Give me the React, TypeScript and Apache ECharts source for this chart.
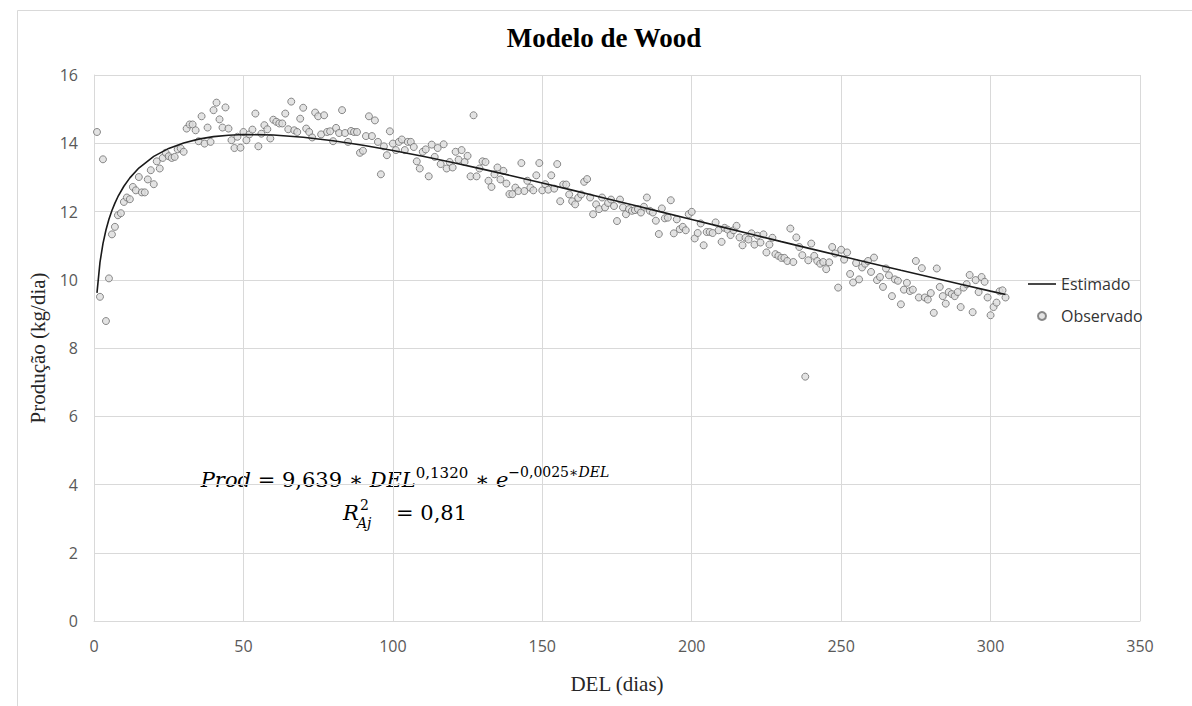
import React, { useEffect, useRef } from "react";
import * as echarts from "echarts";

// Observed daily production (kg/dia), day = firstDay + index
const firstDay = 1;
const observedValues: number[] = [
  14.33, 9.5, 13.53, 8.79, 10.04, 11.33, 11.55, 11.89, 11.95, 12.28,
  12.41, 12.36, 12.72, 12.62, 13.01, 12.56, 12.56, 12.94, 13.21, 12.8,
  13.47, 13.26, 13.57, 13.72, 13.62, 13.57, 13.6, 13.82, 13.85, 13.75,
  14.43, 14.55, 14.55, 14.38, 14.06, 14.79, 13.99, 14.46, 14.04, 14.97,
  15.19, 14.7, 14.46, 15.05, 14.43, 14.09, 13.86, 14.19, 13.87, 14.33,
  14.09, 14.26, 14.4, 14.87, 13.91, 14.28, 14.53, 14.41, 14.14, 14.69,
  14.63, 14.58, 14.58, 14.87, 14.41, 15.22, 14.38, 14.33, 14.72, 15.04,
  14.43, 14.33, 14.17, 14.9, 14.79, 14.26, 14.82, 14.33, 14.35, 14.06,
  14.45, 14.3, 14.97, 14.3, 14.04, 14.36, 14.33, 14.33, 13.72, 13.78,
  14.21, 14.79, 14.21, 14.67, 14.04, 13.09, 13.91, 13.65, 14.35, 13.99,
  13.8, 14.04, 14.11, 13.8, 14.04, 14.04, 13.89, 13.47, 13.26, 13.75,
  13.82, 13.03, 13.96, 13.6, 13.86, 13.39, 13.97, 13.26, 13.45, 13.29,
  13.75, 13.52, 13.8, 13.45, 13.63, 13.03, 14.82, 13.03, 13.26, 13.47,
  13.45, 12.9, 12.72, 13.09, 13.29, 12.94, 13.19, 12.82, 12.51, 12.51,
  12.7, 12.6, 13.42, 12.6, 12.9, 12.7, 12.62, 13.06, 13.42, 12.62,
  12.8, 12.64, 13.06, 12.67, 13.39, 12.3, 12.79, 12.79, 12.5, 12.3,
  12.21, 12.4, 12.5, 12.87, 12.95, 12.41, 11.92, 12.21, 12.07, 12.41,
  12.12, 12.25, 12.35, 12.16, 11.72, 12.35, 12.12, 11.92, 12.07, 12.02,
  12.04, 12.07, 11.97, 12.14, 12.41, 12.02, 11.97, 11.73, 11.34, 12.09,
  11.8, 11.82, 12.33, 11.36, 11.77, 11.48, 11.55, 11.45, 11.92, 11.99,
  11.21, 11.37, 11.65, 11.01, 11.4, 11.4, 11.37, 11.68, 11.45, 11.11,
  11.52, 11.47, 11.31, 11.45, 11.58, 11.24, 11.01, 11.23, 11.18, 11.36,
  11.03, 11.29, 11.09, 11.33, 10.8, 11.03, 11.23, 10.75, 10.7, 10.64,
  10.64, 10.55, 11.5, 10.52, 11.24, 10.96, 10.72, 7.16, 10.57, 11.06,
  10.7, 10.55, 10.47, 10.52, 10.31, 10.51, 10.96, 10.77, 9.77, 10.88,
  10.59, 10.8, 10.17, 9.92, 10.49, 10.01, 10.36, 10.47, 10.55, 10.23,
  10.65, 9.99, 10.08, 9.79, 10.33, 10.13, 9.52, 10.01, 9.97, 9.28,
  9.71, 9.91, 9.67, 9.71, 10.55, 9.48, 10.34, 9.48, 9.42, 9.61,
  9.03, 10.33, 9.79, 9.52, 9.3, 9.64, 9.58, 9.52, 9.64, 9.2,
  9.77, 9.87, 10.14, 9.05, 9.99, 9.64, 10.08, 9.94, 9.48, 8.96,
  9.2, 9.33, 9.66, 9.69, 9.48,
];

// Estimated (Wood model) curve
const estimatedDays: number[] = [
  1, 2, 3, 4, 5, 6, 7, 8, 10, 12, 15, 20, 25, 30, 35, 40, 45, 50, 60, 70, 80, 90, 100,
  110, 120, 130, 140, 150, 160, 170, 180, 190, 200, 210, 220, 230, 240, 250, 260, 270,
  280, 290, 300, 305,
];
const estimatedValues: number[] = [
  9.615, 10.51, 11.06, 11.459, 11.772, 12.029, 12.246, 12.433, 12.74, 12.985, 13.274, 13.616,
  13.849, 14.01, 14.121, 14.193, 14.236, 14.256, 14.243, 14.177, 14.072, 13.941, 13.786,
  13.617, 13.434, 13.241, 13.041, 12.836, 12.626, 12.413, 12.198, 11.982, 11.766, 11.55,
  11.334, 11.118, 10.905, 10.694, 10.484, 10.276, 10.071, 9.868, 9.667, 9.568,
];

const xTickMin = 0;
const xTickMax = 350;
const xTickStep = 50;
const yTickMin = 0;
const yTickMax = 16;
const yTickStep = 2;

const titleText = "Modelo de Wood";
const xAxisName = "DEL (dias)";
const yAxisName = "Produção (kg/dia)";
const seriesNames = ["Estimado", "Observado"];

const SERIF = '"Liberation Serif", "Times New Roman", serif';
const MATH = '"DejaVu Serif", "Liberation Serif", serif';
const SANS = '"Open Sans", "Noto Sans", sans-serif';

export default function App() {
  const ref = useRef<HTMLDivElement>(null);

  useEffect(() => {
    document.body.style.margin = "0";
    const chart = echarts.init(ref.current!, null, { renderer: "svg" });

    const observed = observedValues.map((v, i) => [firstDay + i, v]);
    const estimated = estimatedDays.map((d, i) => [d, estimatedValues[i]]);

    const option: any = {
      animation: false,
      backgroundColor: "#ffffff",
      title: {
        text: titleText,
        left: 604,
        textAlign: "center",
        top: 24,
        padding: 0,
        textStyle: { fontFamily: SERIF, fontWeight: "bold", fontSize: 27, color: "#000000" },
      },
      legend: {
        orient: "vertical",
        left: 1028,
        top: 276,
        itemWidth: 28,
        itemHeight: 8,
        itemGap: 16,
        padding: 0,
        textStyle: { fontFamily: SANS, fontSize: 16, color: "#333333" },
        data: [
          { name: seriesNames[0], icon: "path://M0,0h28v1.6h-28z" },
          { name: seriesNames[1], icon: "circle" },
        ],
      },
      grid: { left: 94, right: 52, top: 75, bottom: 85 },
      xAxis: {
        type: "value",
        min: xTickMin,
        max: xTickMax,
        interval: xTickStep,
        name: xAxisName,
        nameLocation: "middle",
        nameGap: 52,
        nameTextStyle: { fontFamily: SERIF, fontSize: 21, color: "#262626" },
        axisLine: { show: true, lineStyle: { color: "#d9d9d9", width: 1 } },
        axisTick: { show: false },
        axisLabel: { fontFamily: SANS, fontSize: 16, color: "#595959", margin: 17 },
        splitLine: { show: true, lineStyle: { color: "#d9d9d9", width: 1 } },
      },
      yAxis: {
        type: "value",
        min: yTickMin,
        max: yTickMax,
        interval: yTickStep,
        name: yAxisName,
        nameLocation: "middle",
        nameGap: 34,
        nameRotate: 90,
        nameTextStyle: { fontFamily: SERIF, fontSize: 21, color: "#262626" },
        axisLine: { show: true, lineStyle: { color: "#d9d9d9", width: 1 } },
        axisTick: { show: false },
        axisLabel: { fontFamily: SANS, fontSize: 16, color: "#595959", margin: 16 },
        splitLine: { show: true, lineStyle: { color: "#d9d9d9", width: 1 } },
      },
      series: [
        {
          name: seriesNames[0],
          type: "line",
          data: estimated,
          symbol: "none",
          smooth: false,
          z: 5,
          lineStyle: { color: "#1a1a1a", width: 1.6 },
          itemStyle: { color: "#1a1a1a" },
        },
        {
          name: seriesNames[1],
          type: "scatter",
          data: observed,
          symbol: "circle",
          symbolSize: 7,
          z: 3,
          itemStyle: { color: "#dcdcdc", borderColor: "#6e6e6e", borderWidth: 1 },
        },
      ],
      graphic: [
        {
          type: "polyline",
          silent: true,
          shape: { points: [[17.5, 706], [17.5, 10.5], [1192, 10.5]] },
          style: { stroke: "#d9d9d9", fill: "none", lineWidth: 1 },
        },
        {
          type: "text",
          x: 405,
          y: 480,
          silent: true,
          style: {
            text: "{i|Prod}{n| = 9,639 ∗ }{i|DEL}{s|0,1320}{n| ∗ }{i|e}{t|−0,0025∗}{ti|DEL}",
            align: "center",
            verticalAlign: "middle",
            rich: {
              i: { fontFamily: MATH, fontStyle: "italic", fontSize: 21, lineHeight: 30, fill: "#000" },
              n: { fontFamily: MATH, fontSize: 21, lineHeight: 30, fill: "#000" },
              s: { fontFamily: MATH, fontSize: 15, lineHeight: 16, verticalAlign: "top", fill: "#000" },
              t: { fontFamily: MATH, fontSize: 14, lineHeight: 20, verticalAlign: "top", fill: "#000" },
              ti: { fontFamily: MATH, fontStyle: "italic", fontSize: 14, lineHeight: 20, verticalAlign: "top", fill: "#000" },
            },
          },
        },
        {
          type: "text",
          x: 343,
          y: 513,
          silent: true,
          style: { text: "R", font: `italic 21px ${MATH}`, fill: "#000", align: "left", verticalAlign: "middle" },
        },
        {
          type: "text",
          x: 360,
          y: 505,
          silent: true,
          style: { text: "2", font: `14px ${MATH}`, fill: "#000", align: "left", verticalAlign: "middle" },
        },
        {
          type: "text",
          x: 357,
          y: 523,
          silent: true,
          style: { text: "Aj", font: `italic 14px ${MATH}`, fill: "#000", align: "left", verticalAlign: "middle" },
        },
        {
          type: "text",
          x: 396,
          y: 513,
          silent: true,
          style: { text: "= 0,81", font: `21px ${MATH}`, fill: "#000", align: "left", verticalAlign: "middle" },
        },
      ],
    };

    chart.setOption(option);
    return () => chart.dispose();
  }, []);

  return <div ref={ref} style={{ width: 1192, height: 706 }} />;
}
